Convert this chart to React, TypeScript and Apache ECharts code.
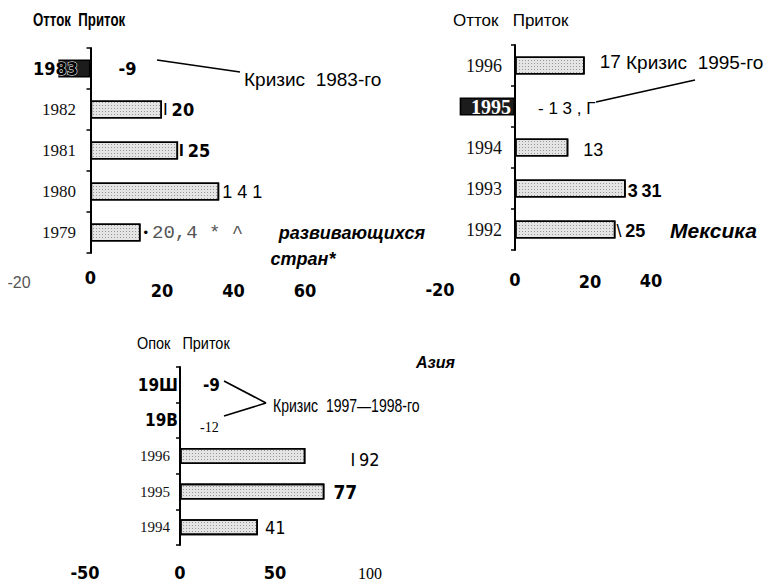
import React, { useEffect, useRef } from 'react';
import * as echarts from 'echarts';

const NARROW = "'Liberation Sans Narrow', 'DejaVu Sans Condensed', 'Liberation Sans', Arial, sans-serif";
const SANS = "'Liberation Sans', Arial, sans-serif";
const SERIF = "'Liberation Serif', 'Times New Roman', serif";
const MONO = "'Liberation Mono', 'Courier New', monospace";

// ---- Chart 1: developing countries ----
const years1 = ['1983', '1982', '1981', '1980', '1979'];
const values1 = [-9, 20, 24.5, 36, 14];
const marks1 = ['', 'I', 'I', '', '•'];
const nums1 = ['-9', '20', '25', '1 4 1', '20,4 * ^'];
const axis1 = [-20, 60, 20];

// ---- Chart 2: Mexico ----
const years2 = ['1996', '1995', '1994', '1993', '1992'];
const values2 = [17, -13.5, 13, 27, 24.5];
const marks2 = ['', '', '', '3', '\\'];
const nums2 = ['17', '- 1 3 , Г', '13', '31', '25'];
const axis2 = [-20, 40, 20];

// ---- Chart 3: Asia ----
const years3 = ['19Ш', '19В', '1996', '1995', '1994'];
const values3 = [-9, -12, 66, 76, 41];
const marks3 = ['', '', 'I', '', ''];
const nums3 = ['-9', '-12', '92', '77', '41'];
const axis3 = [-50, 100, 50];

const titles = ['Отток  Приток', 'Отток   Приток', 'Опок   Приток'];
const crisis = ['Кризис  1983-го', 'Кризис  1995-го', 'Кризис  1997—1998-го'];
const regions = ['развивающихся', 'стран*', 'Мексика', 'Азия'];

const barStyle = {
  color: '#e4e4e4',
  borderColor: '#000',
  borderWidth: 1.6,
  decal: {
    symbol: 'rect',
    symbolSize: 1,
    dashArrayX: [1, 2],
    dashArrayY: [1, 2],
    color: 'rgba(60,60,60,0.45)',
  },
};
const darkStyle = { color: '#1c1c1c', borderColor: '#000', borderWidth: 1.6, decal: 'none' };
const hiddenStyle = { color: 'rgba(0,0,0,0)', borderWidth: 0, decal: 'none' };

type LCfg = { d: number; o?: number[]; m?: any; n: any };

function buildData(values: number[], marks: string[], nums: string[], cfg: LCfg[], styles: any[]) {
  return values.map((v, i) => {
    const c = cfg[i];
    const text = marks[i] ? `{mk|${marks[i]}}{sp| }{nm|${nums[i]}}` : `{nm|${nums[i]}}`;
    return {
      value: v,
      itemStyle: styles[i],
      label: {
        show: true,
        position: 'right',
        distance: c.d,
        offset: c.o || [0, 0],
        formatter: () => text,
        rich: {
          mk: Object.assign({ color: '#000', fontFamily: SANS, fontSize: 16 }, c.m || {}),
          sp: { fontFamily: SANS, fontSize: 14 },
          nm: Object.assign({ color: '#000' }, c.n),
        },
      },
    };
  });
}

const boldN = { fontFamily: NARROW, fontWeight: 'bold', fontSize: 18 };

const cfg1: LCfg[] = [
  { d: 28, n: boldN },
  { d: 1, m: { fontSize: 17 }, n: boldN },
  { d: 1, m: { fontSize: 17, fontWeight: 'bold' }, n: boldN },
  { d: 3, n: { fontFamily: SANS, fontSize: 18 } },
  { d: 3, m: { fontSize: 13 }, n: { fontFamily: MONO, fontSize: 19, color: '#555' } },
];
const cfg2: LCfg[] = [
  { d: 15, o: [0, -4], n: { fontFamily: SANS, fontSize: 19 } },
  { d: 23, o: [0, 2], n: { fontFamily: SANS, fontSize: 17 } },
  { d: 15, o: [0, 2], n: { fontFamily: SANS, fontSize: 18 } },
  { d: 2, o: [0, 2], m: { fontSize: 18, fontWeight: 'bold' }, n: { fontFamily: SANS, fontWeight: 'bold', fontSize: 18 } },
  { d: 1, o: [0, 1], m: { fontSize: 18 }, n: { fontFamily: SANS, fontWeight: 'bold', fontSize: 18 } },
];
const cfg3: LCfg[] = [
  { d: 23, n: { fontFamily: NARROW, fontWeight: 'bold', fontSize: 17 } },
  { d: 20, o: [0, 7], n: { fontFamily: SERIF, fontSize: 14 } },
  { d: 45, o: [0, 3], m: { fontFamily: NARROW, fontSize: 18 }, n: { fontFamily: NARROW, fontSize: 18 } },
  { d: 9, n: { fontFamily: NARROW, fontWeight: 'bold', fontSize: 19 } },
  { d: 7, n: { fontFamily: NARROW, fontSize: 18 } },
];

const data1 = buildData(values1, marks1, nums1, cfg1, [darkStyle, barStyle, barStyle, barStyle, barStyle]);
const data2 = buildData(values2, marks2, nums2, cfg2, [barStyle, darkStyle, barStyle, barStyle, barStyle]);
const data3 = buildData(values3, marks3, nums3, cfg3, [hiddenStyle, hiddenStyle, barStyle, barStyle, barStyle]);

const yAxisBase = {
  type: 'category',
  inverse: true,
  z: 5,
  axisLine: { show: true, onZero: true, lineStyle: { color: '#000', width: 2 } },
  axisTick: { show: true, length: 4, lineStyle: { color: '#000', width: 1.5 } },
  splitLine: { show: false },
};
const xAxisBase = {
  type: 'value',
  axisLine: { show: false },
  axisTick: { show: false },
  splitLine: { show: false },
};

const G1 = { left: 19, top: 48, width: 286, height: 205 };
const G2 = { left: 433, top: 45, width: 246, height: 205 };
const G3 = { left: 85, top: 367, width: 285, height: 178 };

const option = {
  animation: false,
  backgroundColor: '#fff',
  grid: [
    { ...G1, containLabel: false, outerBoundsMode: 'none' },
    { ...G2, containLabel: false, outerBoundsMode: 'none' },
    { ...G3, containLabel: false, outerBoundsMode: 'none' },
  ],
  xAxis: [
    {
      ...xAxisBase,
      gridIndex: 0,
      min: axis1[0],
      max: axis1[1],
      interval: axis1[2],
      axisLabel: {
        margin: 15,
        formatter: (v: number) => (v < 0 ? `{g|${v}}` : v === 0 ? `{z|${v}}` : `{b|${v}}`),
        rich: {
          g: { fontFamily: SANS, fontSize: 16, color: '#555', padding: [6, 0, 0, 0] },
          z: { fontFamily: NARROW, fontWeight: 'bold', fontSize: 18, color: '#000' },
          b: { fontFamily: NARROW, fontWeight: 'bold', fontSize: 18, color: '#000', padding: [13, 0, 0, 0] },
        },
      },
    },
    {
      ...xAxisBase,
      gridIndex: 1,
      min: axis2[0],
      max: axis2[1],
      interval: axis2[2],
      axisLabel: {
        margin: 20,
        formatter: (v: number) => (v < 0 ? `{m|${v}}` : v === 0 ? `{z|${v}}` : v === 20 ? `{a|${v}}` : `{c|${v}}`),
        rich: {
          m: { fontFamily: NARROW, fontWeight: 'bold', fontSize: 18, color: '#000', padding: [10, 0, 0, 14] },
          z: { fontFamily: NARROW, fontWeight: 'bold', fontSize: 18, color: '#000' },
          a: { fontFamily: NARROW, fontWeight: 'bold', fontSize: 18, color: '#000', padding: [2, 14, 0, 0] },
          c: { fontFamily: NARROW, fontWeight: 'bold', fontSize: 18, color: '#000', padding: [1, 56, 0, 0] },
        },
      },
    },
    {
      ...xAxisBase,
      gridIndex: 2,
      min: axis3[0],
      max: axis3[1],
      interval: axis3[2],
      axisLabel: {
        margin: 20,
        formatter: (v: number) => (v === 100 ? `{s|${v}}` : `{b|${v}}`),
        rich: {
          b: { fontFamily: NARROW, fontWeight: 'bold', fontSize: 18, lineHeight: 14, color: '#000' },
          s: { fontFamily: SERIF, fontSize: 16, lineHeight: 14, color: '#000', padding: [2, 0, 0, 0] },
        },
      },
    },
  ],
  yAxis: [
    {
      ...yAxisBase,
      gridIndex: 0,
      data: years1,
      axisLabel: {
        margin: G1.left - 78,
        formatter: (v: string, i: number) => (i === 0 ? `{b|${v}}` : `{s|${v}}`),
        rich: {
          b: { fontFamily: NARROW, fontWeight: 'bold', fontSize: 18, color: '#000', textBorderColor: '#fff', textBorderWidth: 1 },
          s: { fontFamily: SERIF, fontSize: 17, color: '#111', padding: [0, 2, 0, 0] },
        },
      },
    },
    {
      ...yAxisBase,
      gridIndex: 1,
      data: years2,
      axisLabel: {
        margin: G2.left - 511,
        formatter: (v: string, i: number) => (i === 1 ? `{w|${v}}` : `{s|${v}}`),
        rich: {
          w: { fontFamily: SERIF, fontWeight: 'bold', fontSize: 20, color: '#fff' },
          s: { fontFamily: SERIF, fontSize: 18, color: '#111', padding: [0, 9, 0, 0] },
        },
      },
    },
    {
      ...yAxisBase,
      gridIndex: 2,
      data: years3,
      axisLabel: {
        margin: G3.left - 178,
        formatter: (v: string, i: number) => (i < 2 ? `{b|${v}}` : `{s|${v}}`),
        rich: {
          b: { fontFamily: NARROW, fontWeight: 'bold', fontSize: 17, color: '#000' },
          s: { fontFamily: SERIF, fontSize: 15, color: '#111', padding: [0, 8, 0, 0] },
        },
      },
    },
  ],
  series: [
    { type: 'bar', xAxisIndex: 0, yAxisIndex: 0, barWidth: 18, data: data1 },
    { type: 'bar', xAxisIndex: 1, yAxisIndex: 1, barWidth: 18, data: data2 },
    { type: 'bar', xAxisIndex: 2, yAxisIndex: 2, barWidth: 16, data: data3 },
  ],
  graphic: [
    { type: 'text', x: 33, y: 19, scaleX: 0.7, style: { text: titles[0], fontFamily: SANS, fontWeight: 'bold', fontSize: 19, fill: '#000', verticalAlign: 'middle' } },
    { type: 'text', x: 453, y: 20, style: { text: titles[1], fontFamily: SANS, fontSize: 17, fill: '#000', verticalAlign: 'middle' } },
    { type: 'text', x: 137, y: 343, scaleX: 0.85, style: { text: titles[2], fontFamily: SANS, fontSize: 17, fill: '#000', verticalAlign: 'middle' } },
    { type: 'line', shape: { x1: 157, y1: 60, x2: 240, y2: 72 }, style: { stroke: '#000', lineWidth: 1.6 } },
    { type: 'text', x: 244, y: 79, style: { text: crisis[0], fontFamily: SANS, fontSize: 19, fill: '#000', verticalAlign: 'middle' } },
    { type: 'text', x: 626, y: 62, style: { text: crisis[1], fontFamily: SANS, fontSize: 19, fill: '#000', verticalAlign: 'middle' } },
    { type: 'line', shape: { x1: 596, y1: 102, x2: 695, y2: 80 }, style: { stroke: '#000', lineWidth: 1.6 } },
    { type: 'text', x: 273, y: 405, scaleX: 0.78, style: { text: crisis[2], fontFamily: SANS, fontSize: 18, fill: '#000', verticalAlign: 'middle' } },
    { type: 'line', shape: { x1: 224, y1: 381, x2: 266, y2: 403 }, style: { stroke: '#000', lineWidth: 1.6 } },
    { type: 'line', shape: { x1: 224, y1: 416, x2: 266, y2: 403 }, style: { stroke: '#000', lineWidth: 1.6 } },
    { type: 'text', x: 425, y: 233, style: { text: regions[0], fontFamily: SANS, fontWeight: 'bold', fontStyle: 'italic', fontSize: 18, fill: '#000', align: 'right', verticalAlign: 'middle' } },
    { type: 'text', x: 303, y: 259, style: { text: regions[1], fontFamily: SANS, fontWeight: 'bold', fontStyle: 'italic', fontSize: 18, fill: '#000', align: 'center', verticalAlign: 'middle' } },
    { type: 'text', x: 670, y: 230, style: { text: regions[2], fontFamily: SANS, fontWeight: 'bold', fontStyle: 'italic', fontSize: 21, fill: '#000', verticalAlign: 'middle' } },
    { type: 'text', x: 416, y: 362, style: { text: regions[3], fontFamily: SANS, fontWeight: 'bold', fontStyle: 'italic', fontSize: 16, fill: '#000', verticalAlign: 'middle' } },
  ],
};

export default function App() {
  const ref = useRef<HTMLDivElement>(null);
  useEffect(() => {
    if (!ref.current) return;
    const chart = echarts.init(ref.current, null, { renderer: 'svg' });
    chart.setOption(option as any);
    return () => chart.dispose();
  }, []);
  return (
    <div
      ref={ref}
      style={{ position: 'absolute', left: 0, top: 0, width: 766, height: 582, background: '#fff' }}
    />
  );
}
